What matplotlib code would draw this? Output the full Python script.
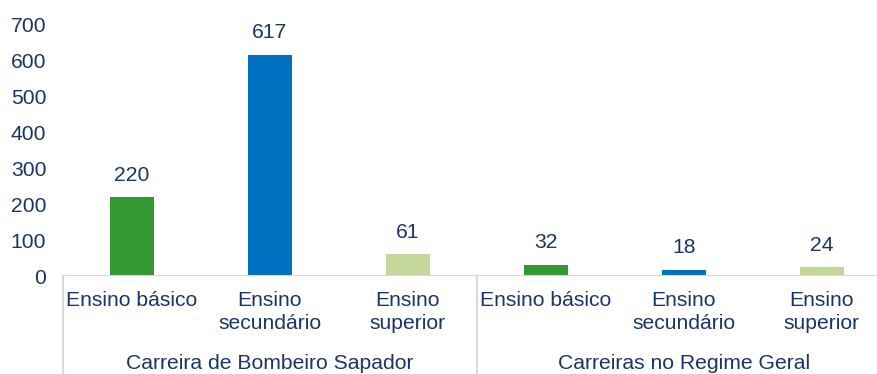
import matplotlib.pyplot as plt
import matplotlib.transforms as mtransforms

# Data
categories = ['Ensino básico', 'Ensino\nsecundário', 'Ensino\nsuperior',
              'Ensino básico', 'Ensino\nsecundário', 'Ensino\nsuperior']
values = [220, 617, 61, 32, 18, 24]
groups = ['Carreira de Bombeiro Sapador', 'Carreiras no Regime Geral']
bar_colors = ['#339933', '#0070C0', '#C4D79B'] * 2

text_color = '#1B3564'
line_color = '#D9D9D9'
fs = 15.2
plt.rcParams['font.family'] = ['Liberation Sans', 'DejaVu Sans']

W, H = 878, 374
fig = plt.figure(figsize=(W / 100, H / 100), dpi=100)
# axes spans six slots of 138 px starting at x=63; the last slot runs past the edge
ax = fig.add_axes([63 / W, (H - 276) / H, 828 / W, 251 / H])

x = list(range(len(values)))
bars = ax.bar(x, values, width=0.32, color=bar_colors, zorder=2)
ax.set_xlim(-0.5, len(values) - 0.5)
ax.set_ylim(0, 700)

for xi, v in zip(x, values):
    ax.annotate(str(v), (xi, v), xytext=(0, 9), textcoords='offset points',
                ha='center', va='bottom', fontsize=fs, color=text_color)

for s in ax.spines.values():
    s.set_visible(False)
ax.set_xticks([])
ax.set_yticks(range(0, 701, 100))
ax.tick_params(axis='y', length=0, pad=12, labelsize=fs, labelcolor=text_color)

# baseline
ax.axhline(0, color=line_color, lw=1.5, zorder=3)

# category labels under the axis
trans = mtransforms.blended_transform_factory(ax.transData, ax.transAxes)
for xi, lab in zip(x, categories):
    ax.text(xi, -0.06, lab, transform=trans, ha='center', va='top',
            fontsize=fs, color=text_color, linespacing=1.25)

# group labels and separators
for gi, g in enumerate(groups):
    ax.text(gi * 3 + 1, -0.35, g, transform=trans, ha='center', va='center',
            fontsize=fs, color=text_color)
for sx in [-0.5, 2.5, 5.5]:
    ax.plot([sx, sx], [0, -0.5], transform=trans, color=line_color, lw=1.5,
            clip_on=False)

fig.savefig('out.png', dpi=100)
